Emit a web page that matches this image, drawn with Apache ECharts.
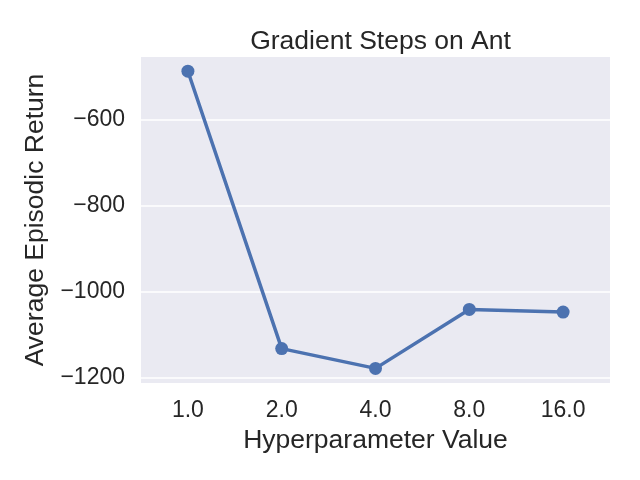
<!DOCTYPE html>
<html>
<head>
<meta charset="utf-8">
<script src="https://cdn.jsdelivr.net/npm/echarts@6/dist/echarts.min.js"></script>
<style>html,body{margin:0;padding:0;background:#fff}#c{width:640px;height:480px}</style>
</head>
<body>
<div id="c"></div>
<script>
const categories = ['1.0', '2.0', '4.0', '8.0', '16.0'];
const returns = [-488, -1133, -1179, -1042, -1048];
const yTicks = [-1200, -1000, -800, -600];
const titleText = 'Gradient Steps on Ant';
const xName = 'Hyperparameter Value';
const yName = 'Average Episodic Return';

const FONT = '"Liberation Sans", Arial, sans-serif';
const chart = echarts.init(document.getElementById('c'), null, {renderer: 'canvas'});
chart.setOption({
  animation: false,
  backgroundColor: '#ffffff',
  title: {
    text: titleText, left: 375.5, textAlign: 'center', top: 23,
    textStyle: {fontFamily: FONT, fontSize: 26.5, fontWeight: 'normal', color: '#262626'}
  },
  grid: {left: 141, right: 30, top: 57, bottom: 97, show: true, backgroundColor: '#eaeaf2', borderWidth: 0},
  xAxis: {
    type: 'category', data: categories, boundaryGap: true,
    name: xName, nameLocation: 'middle', nameGap: 39,
    nameTextStyle: {fontFamily: FONT, fontSize: 26.5, color: '#262626'},
    axisLine: {show: false}, axisTick: {show: false},
    axisLabel: {fontFamily: FONT, fontSize: 23, color: '#262626', margin: 16},
    splitLine: {show: false}
  },
  yAxis: {
    type: 'value', min: -1213, max: -455,
    name: yName, nameLocation: 'middle', nameGap: 85, nameRotate: 90,
    nameTextStyle: {fontFamily: FONT, fontSize: 26.5, color: '#262626'},
    axisLine: {show: false},
    axisTick: {show: false, customValues: yTicks},
    axisLabel: {fontFamily: FONT, fontSize: 23, color: '#262626', margin: 16, customValues: yTicks,
      formatter: v => String(v).replace('-', '\u2212')},
    splitLine: {show: true, lineStyle: {color: '#ffffff', width: 1.5}}
  },
  series: [{
    type: 'line', data: returns,
    symbol: 'circle', symbolSize: 13,
    itemStyle: {color: '#4c72b0'},
    lineStyle: {color: '#4c72b0', width: 3.5}
  }]
});
</script>
</body>
</html>
